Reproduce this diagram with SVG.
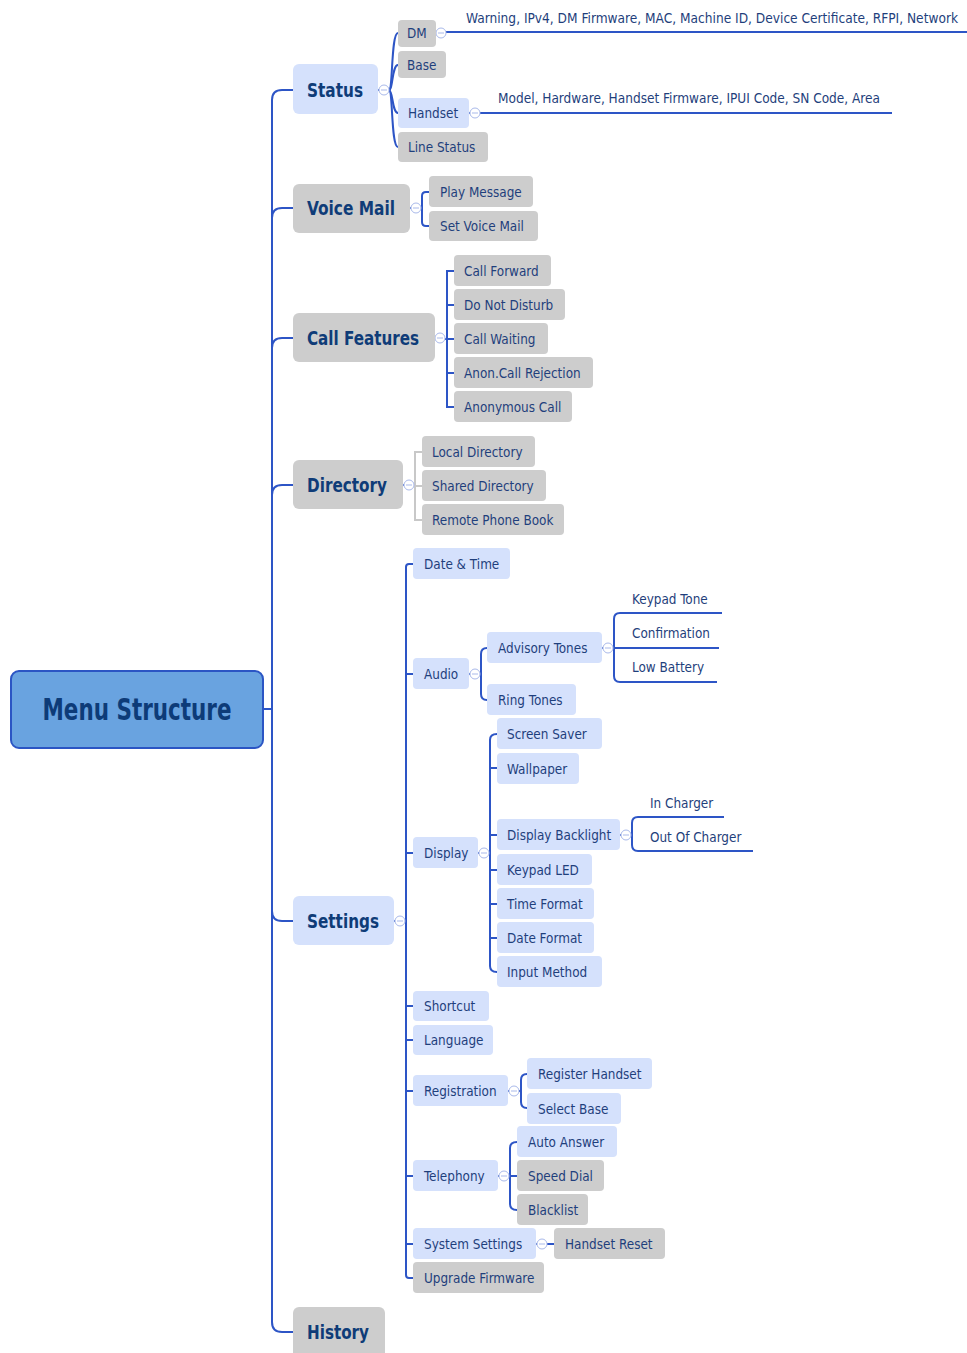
<svg xmlns="http://www.w3.org/2000/svg" width="967" height="1353" viewBox="0 0 967 1353">
<style>
.t{font-family:"DejaVu Sans Condensed","DejaVu Sans",sans-serif;font-stretch:condensed;font-size:13.4px;fill:#1f3f7c}
.h{font-family:"DejaVu Sans Condensed","DejaVu Sans",sans-serif;font-stretch:condensed;font-size:20px;font-weight:bold;fill:#0f3c78}
.m{font-family:"DejaVu Sans Condensed","DejaVu Sans",sans-serif;font-stretch:condensed;font-size:30px;font-weight:bold;fill:#0d3b78}
.b{fill:#d5e1fc}
.g{fill:#cdcdcd}
.c{fill:none;stroke:#2d55c6;stroke-width:2}
.cg{fill:none;stroke:#c8c8c8;stroke-width:2}
.d{fill:none;stroke:#2d55c6;stroke-width:1.5;stroke-dasharray:1 2}
.k{fill:#fff;stroke:#a9b9ea;stroke-width:1}
.km{stroke:#a9b9ea;stroke-width:1}
</style>
<defs>
<g id="col"><circle class="k" cx="0" cy="0" r="5"/><line class="km" x1="-3" y1="0" x2="3" y2="0"/></g>
</defs>
<g id="connectors">
<path class="c" d="M293 90 L282 90 Q272 90 272 100 L272 1322 Q272 1332 282 1332 L293 1332"/>
<path class="c" d="M263 709 L272 709"/>
<path class="c" d="M272 218 Q272 208 282 208 L293 208"/>
<path class="c" d="M272 348 Q272 338 282 338 L293 338"/>
<path class="c" d="M272 495 Q272 485 282 485 L293 485"/>
<path class="c" d="M272 911 Q272 921 282 921 L293 921"/>
<path class="c" d="M389 90 C393 90 391 33 398 33"/>
<path class="c" d="M389 90 C393 90 392 65 398 65"/>
<path class="c" d="M389 90 C393 90 392 113 398 113"/>
<path class="c" d="M389 90 C393 90 391 147 398 147"/>
<path class="c" d="M446 32 L967 32"/>
<path class="c" d="M480 113 L892 113"/>
<path class="c" d="M421 208 L422 208 M429 192 L426 192 Q422 192 422 196 L422 222 Q422 226 426 226 L429 226"/>
<path class="c" d="M454 271 L447 271 L447 407 L454 407 M447 305 L454 305 M445 339 L454 339 M447 373 L454 373"/>
<path class="cg" d="M422 452 L415 452 L415 520 L422 520 M414 486 L422 486"/>
<path class="c" d="M405 921 L406 921 M413 564 L409 564 Q406 564 406 567 L406 1275 Q406 1278 409 1278 L413 1278 M406 674 L413 674 M406 853 L413 853 M406 1006 L413 1006 M406 1040 L413 1040 M406 1091 L413 1091 M406 1176 L413 1176 M406 1244 L413 1244"/>
<path class="c" d="M480 674 L481 674 M487 648 Q481 648 481 654 L481 694 Q481 700 487 700"/>
<path class="c" d="M722 613 L620 613 Q614 613 614 619 L614 676 Q614 682 620 682 L717 682 M613 648 L719 648"/>
<path class="c" d="M489 853 L490 853 M497 734 Q490 734 490 740 L490 966 Q490 972 497 972 M490 768 L497 768 M490 835 L497 835 M490 870 L497 870 M490 904 L497 904 M490 938 L497 938"/>
<path class="c" d="M724 817 L638 817 Q632 817 632 823 L632 845 Q632 851 638 851 L753 851 M631 835 L632 835"/>
<path class="c" d="M519 1091 L521 1091 M527 1074 Q521 1074 521 1080 L521 1102 Q521 1108 527 1108"/>
<path class="c" d="M509 1176 L517 1176 M517 1142 Q510 1142 510 1148 L510 1204 Q510 1210 517 1210"/>
<path class="c" d="M547 1244 L554 1244"/>
<path class="d" d="M378 90 L379 90 M436 33 L436 33 M469 113 L470 113 M410 208 L411 208 M435 338 L435 338 M403 485 L404 485 M394 921 L395 921 M469 674 L470 674 M602 648 L603 648 M478 853 L479 853 M620 835 L621 835 M508 1091 L509 1091 M498 1176 L499 1176 M536 1244 L537 1244"/>
<use href="#col" x="384" y="90"/>
<use href="#col" x="441" y="33"/>
<use href="#col" x="475" y="113"/>
<use href="#col" x="416" y="208"/>
<use href="#col" x="440" y="338"/>
<use href="#col" x="409" y="485"/>
<use href="#col" x="400" y="921"/>
<use href="#col" x="475" y="674"/>
<use href="#col" x="608" y="648"/>
<use href="#col" x="484" y="853"/>
<use href="#col" x="626" y="835"/>
<use href="#col" x="514" y="1091"/>
<use href="#col" x="504" y="1176"/>
<use href="#col" x="542" y="1244"/>
</g>
<g id="root"><rect x="11" y="671" width="252" height="77" rx="8" fill="#69a3e0" stroke="#2b55c4" stroke-width="2"/><text class="m" x="137" y="720" text-anchor="middle" textLength="189" lengthAdjust="spacingAndGlyphs">Menu Structure</text></g>
<g id="status"><rect class="b" x="293" y="64" width="85" height="50" rx="6"/><text class="h" x="307" y="97" textLength="56" lengthAdjust="spacingAndGlyphs">Status</text></g>
<g id="voicemail"><rect class="g" x="293" y="184" width="117" height="49" rx="6"/><text class="h" x="307" y="215" textLength="88" lengthAdjust="spacingAndGlyphs">Voice Mail</text></g>
<g id="callfeatures"><rect class="g" x="293" y="313" width="142" height="49" rx="6"/><text class="h" x="307" y="345" textLength="112" lengthAdjust="spacingAndGlyphs">Call Features</text></g>
<g id="directory"><rect class="g" x="293" y="460" width="110" height="49" rx="6"/><text class="h" x="307" y="492" textLength="80" lengthAdjust="spacingAndGlyphs">Directory</text></g>
<g id="settings"><rect class="b" x="293" y="896" width="101" height="49" rx="6"/><text class="h" x="307" y="928" textLength="72" lengthAdjust="spacingAndGlyphs">Settings</text></g>
<g id="history"><rect class="g" x="293" y="1307" width="92" height="60" rx="6"/><text class="h" x="307" y="1339" textLength="62" lengthAdjust="spacingAndGlyphs">History</text></g>
<g id="dm"><rect class="g" x="398" y="20" width="38" height="27" rx="4"/><text class="t" x="407" y="38">DM</text></g>
<g id="dm-info"><text class="t" x="466" y="23" textLength="492" lengthAdjust="spacingAndGlyphs">Warning, IPv4, DM Firmware, MAC, Machine ID, Device Certificate, RFPI, Network</text></g>
<g id="base"><rect class="g" x="398" y="51" width="48" height="27" rx="4"/><text class="t" x="407" y="70">Base</text></g>
<g id="handset"><rect class="b" x="398" y="98" width="71" height="30" rx="4"/><text class="t" x="408" y="118">Handset</text></g>
<g id="handset-info"><text class="t" x="498" y="103" textLength="382" lengthAdjust="spacingAndGlyphs">Model, Hardware, Handset Firmware, IPUI Code, SN Code, Area</text></g>
<g id="linestatus"><rect class="g" x="398" y="132" width="90" height="30" rx="4"/><text class="t" x="408" y="152">Line Status</text></g>
<g id="playmessage"><rect class="g" x="429" y="176" width="104" height="31" rx="4"/><text class="t" x="440" y="197">Play Message</text></g>
<g id="setvoicemail"><rect class="g" x="429" y="211" width="109" height="30" rx="4"/><text class="t" x="440" y="231">Set Voice Mail</text></g>
<g id="callforward"><rect class="g" x="454" y="255" width="97" height="31" rx="4"/><text class="t" x="464" y="276">Call Forward</text></g>
<g id="dnd"><rect class="g" x="454" y="289" width="111" height="31" rx="4"/><text class="t" x="464" y="310">Do Not Disturb</text></g>
<g id="callwaiting"><rect class="g" x="454" y="323" width="94" height="31" rx="4"/><text class="t" x="464" y="344">Call Waiting</text></g>
<g id="anonrej"><rect class="g" x="454" y="357" width="139" height="31" rx="4"/><text class="t" x="464" y="378">Anon.Call Rejection</text></g>
<g id="anoncall"><rect class="g" x="454" y="391" width="118" height="31" rx="4"/><text class="t" x="464" y="412">Anonymous Call</text></g>
<g id="localdir"><rect class="g" x="422" y="436" width="113" height="31" rx="4"/><text class="t" x="432" y="457">Local Directory</text></g>
<g id="shareddir"><rect class="g" x="422" y="470" width="124" height="31" rx="4"/><text class="t" x="432" y="491">Shared Directory</text></g>
<g id="remotebook"><rect class="g" x="422" y="504" width="142" height="31" rx="4"/><text class="t" x="432" y="525">Remote Phone Book</text></g>
<g id="datetime"><rect class="b" x="413" y="548" width="97" height="31" rx="4"/><text class="t" x="424" y="569">Date &amp; Time</text></g>
<g id="audio"><rect class="b" x="413" y="658" width="56" height="31" rx="4"/><text class="t" x="424" y="679">Audio</text></g>
<g id="advisory"><rect class="b" x="487" y="632" width="115" height="31" rx="4"/><text class="t" x="498" y="653">Advisory Tones</text></g>
<g id="keypadtone"><text class="t" x="632" y="604">Keypad Tone</text></g>
<g id="confirmation"><text class="t" x="632" y="638">Confirmation</text></g>
<g id="lowbattery"><text class="t" x="632" y="672">Low Battery</text></g>
<g id="ringtones"><rect class="b" x="487" y="684" width="89" height="31" rx="4"/><text class="t" x="498" y="705">Ring Tones</text></g>
<g id="display"><rect class="b" x="413" y="837" width="65" height="31" rx="4"/><text class="t" x="424" y="858">Display</text></g>
<g id="screensaver"><rect class="b" x="497" y="718" width="105" height="31" rx="4"/><text class="t" x="507" y="739">Screen Saver</text></g>
<g id="wallpaper"><rect class="b" x="497" y="753" width="82" height="31" rx="4"/><text class="t" x="507" y="774">Wallpaper</text></g>
<g id="backlight"><rect class="b" x="497" y="819" width="123" height="31" rx="4"/><text class="t" x="507" y="840">Display Backlight</text></g>
<g id="incharger"><text class="t" x="650" y="808">In Charger</text></g>
<g id="outcharger"><text class="t" x="650" y="842">Out Of Charger</text></g>
<g id="keypadled"><rect class="b" x="497" y="854" width="95" height="31" rx="4"/><text class="t" x="507" y="875">Keypad LED</text></g>
<g id="timeformat"><rect class="b" x="497" y="888" width="97" height="31" rx="4"/><text class="t" x="507" y="909">Time Format</text></g>
<g id="dateformat"><rect class="b" x="497" y="922" width="97" height="31" rx="4"/><text class="t" x="507" y="943">Date Format</text></g>
<g id="inputmethod"><rect class="b" x="497" y="956" width="105" height="31" rx="4"/><text class="t" x="507" y="977">Input Method</text></g>
<g id="shortcut"><rect class="b" x="413" y="991" width="76" height="30" rx="4"/><text class="t" x="424" y="1011">Shortcut</text></g>
<g id="language"><rect class="b" x="413" y="1025" width="80" height="30" rx="4"/><text class="t" x="424" y="1045">Language</text></g>
<g id="registration"><rect class="b" x="413" y="1075" width="95" height="31" rx="4"/><text class="t" x="424" y="1096">Registration</text></g>
<g id="reghandset"><rect class="b" x="527" y="1058" width="125" height="31" rx="4"/><text class="t" x="538" y="1079">Register Handset</text></g>
<g id="selectbase"><rect class="b" x="527" y="1093" width="94" height="31" rx="4"/><text class="t" x="538" y="1114">Select Base</text></g>
<g id="telephony"><rect class="b" x="413" y="1160" width="85" height="31" rx="4"/><text class="t" x="424" y="1181">Telephony</text></g>
<g id="autoanswer"><rect class="b" x="517" y="1126" width="100" height="31" rx="4"/><text class="t" x="528" y="1147">Auto Answer</text></g>
<g id="speeddial"><rect class="g" x="517" y="1160" width="87" height="31" rx="4"/><text class="t" x="528" y="1181">Speed Dial</text></g>
<g id="blacklist"><rect class="g" x="517" y="1194" width="71" height="31" rx="4"/><text class="t" x="528" y="1215">Blacklist</text></g>
<g id="systemsettings"><rect class="b" x="413" y="1228" width="123" height="31" rx="4"/><text class="t" x="424" y="1249">System Settings</text></g>
<g id="handsetreset"><rect class="g" x="554" y="1228" width="111" height="31" rx="4"/><text class="t" x="565" y="1249">Handset Reset</text></g>
<g id="upgradefw"><rect class="g" x="413" y="1262" width="131" height="31" rx="4"/><text class="t" x="424" y="1283">Upgrade Firmware</text></g>
</svg>
